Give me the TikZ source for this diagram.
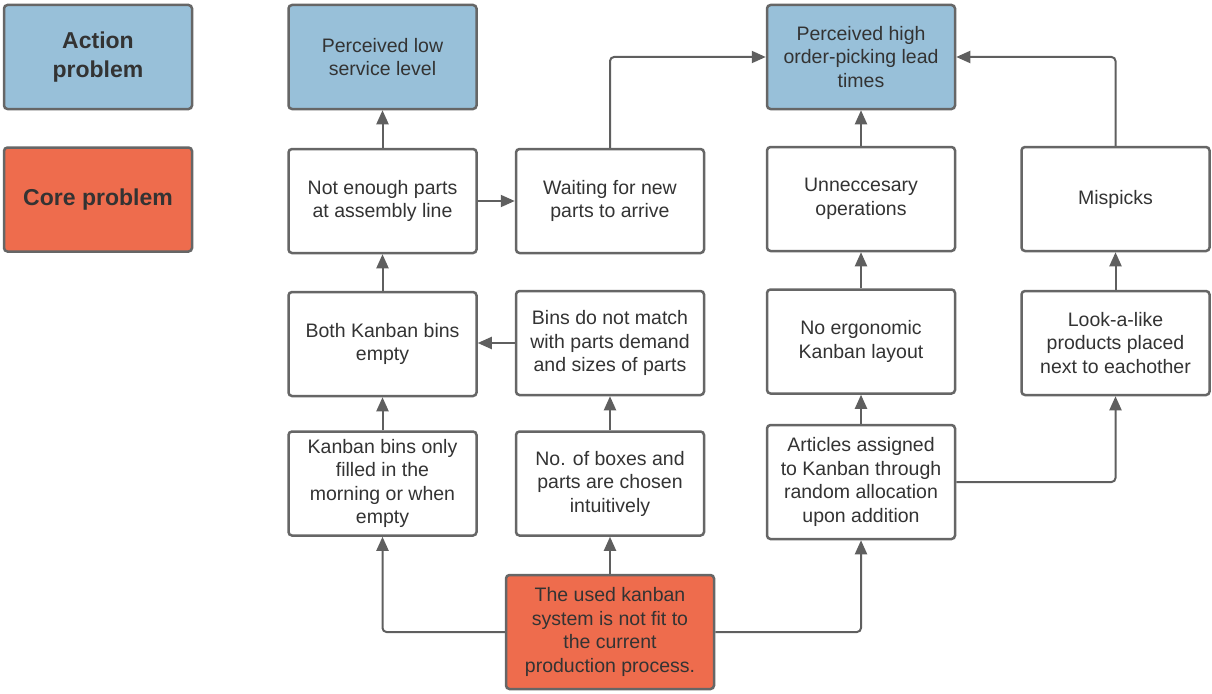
\documentclass[tikz,border=0pt]{standalone}
\usepackage{fontspec}
\setmainfont{Liberation Sans}
\usetikzlibrary{arrows.meta}
\definecolor{actblue}{HTML}{98C0D9}
\definecolor{corered}{HTML}{EE6C4D}
\definecolor{boxline}{HTML}{666666}
\definecolor{arrline}{HTML}{5F5F5F}
\definecolor{txt}{HTML}{333333}
\tikzset{
  box/.style={draw=boxline, line width=2.5pt, rounded corners=3.5pt, fill=white,
    text=txt, align=center, inner sep=0pt,
    minimum width=188pt, minimum height=104pt,
    font=\fontsize{19.5}{23.5}\selectfont},
  action/.style={box, fill=actblue},
  core/.style={box, fill=corered},
  legend/.style={font=\fontsize{23}{28.5}\selectfont\bfseries},
  arr/.style={draw=arrline, line width=2pt, rounded corners=4pt,
    -{Triangle[length=14pt, width=12pt]}}
}
\begin{document}
\begin{tikzpicture}[x=1pt, y=-1pt]
\useasboundingbox (0,0) rectangle (1212,693);

% legend
\node[action, legend] (legact) at (98,57) {Action\\problem};
\node[core, legend] (legcore) at (98,199.5) {Core problem};

% top row: action problems
\node[action] (low) at (382.5,57) {Perceived low\\service level};
\node[action] (high) at (861,57) {Perceived high\\order-picking lead\\times};

% second row
\node[box] (notenough) at (382.5,201) {Not enough parts\\at assembly line};
\node[box] (waiting) at (610,201) {Waiting for new\\parts to arrive};
\node[box] (unnec) at (861,199) {Unneccesary\\operations};
\node[box] (mispicks) at (1115.5,199) {Mispicks};

% third row
\node[box] (both) at (382.5,344) {Both Kanban bins\\empty};
\node[box] (binsnot) at (610,343) {Bins do not match\\with parts demand\\and sizes of parts};
\node[box] (noergo) at (861,341.5) {No ergonomic\\Kanban layout};
\node[box] (lookalike) at (1115.5,343) {Look-a-like\\products placed\\next to eachother};

% fourth row
\node[box] (filled) at (382.5,483.5) {Kanban bins only\\filled in the\\morning or when\\empty};
\node[box] (noboxes) at (610,483.5) {No. of boxes and\\parts are chosen\\intuitively};
\node[box, minimum height=114pt] (articles) at (861,482) {Articles assigned\\to Kanban through\\random allocation\\upon addition};

% core problem
\node[core, minimum width=208pt, minimum height=114pt] (used) at (610,632) {The used kanban\\system is not fit to\\the current\\production process.};

% connectors
\draw[arr] (notenough) -- (low);
\draw[arr] (both) -- (notenough);
\draw[arr] (filled) -- (both);
\draw[arr] (used.west) -| (filled.south);
\draw[arr] (used) -- (noboxes);
\draw[arr] (used.east) -| (articles.south);
\draw[arr] (noboxes) -- (binsnot);
\draw[arr] (binsnot.west) -- (binsnot.west -| both.east);
\draw[arr] (notenough.east) -- (waiting.west);
\draw[arr] (waiting.north) |- (high.west);
\draw[arr] (unnec) -- (high);
\draw[arr] (mispicks.north) |- (high.east);
\draw[arr] (noergo) -- (unnec);
\draw[arr] (lookalike) -- (mispicks);
\draw[arr] (articles) -- (noergo);
\draw[arr] (articles.east) -| (lookalike.south);
\end{tikzpicture}
\end{document}
